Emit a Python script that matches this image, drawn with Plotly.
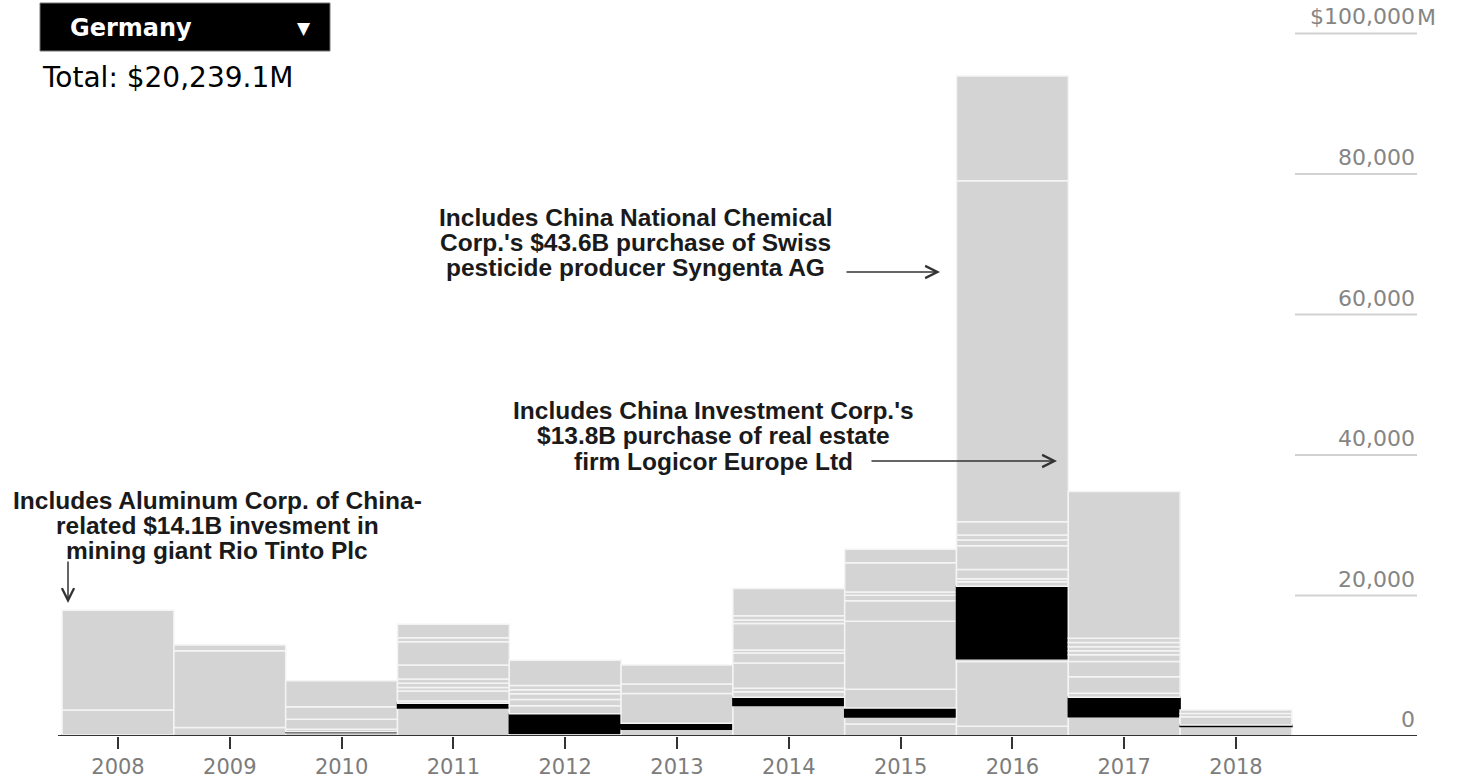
import plotly.graph_objects as go

years = [2008, 2009, 2010, 2011, 2012, 2013, 2014, 2015, 2016, 2017, 2018]

# Chinese outbound deal values ($M), stacked bottom-to-top for each year
deals_2008 = [150, 3550, 14200]
deals_2009 = [1200, 10950, 800]
deals_2010 = [500, 120, 330, 1420, 1800, 3700]
deals_2011 = [4000, 650, 330, 1420, 500, 600, 600, 2000, 3300, 600, 1900]
deals_2012 = [400, 2750, 1150, 900, 800, 600, 600, 3600]
deals_2013 = [950, 850, 4250, 1350, 2700]
deals_2014 = [4350, 1150, 800, 500, 3600, 1400, 450, 3750, 500, 600, 3900]
deals_2015 = [1700, 1000, 1300, 2650, 9700, 2900, 800, 450, 4150, 1950]
deals_2016 = [1400, 9200, 380, 10319.1, 650, 450, 1300, 3400, 800, 700, 1900, 48550, 14900]
deals_2017 = [2750, 2750, 600, 2350, 2150, 950, 600, 550, 600, 600, 20900]
deals_2018 = [1350, 200, 1200, 450, 500]

# Position of the selected country's deal inside each year's stack (None = no deal)
country = "Germany"
country_index = [0, None, 1, 1, 1, 1, 1, 2, 3, 1, 1]

y_tick_values = [0, 20000, 40000, 60000, 80000, 100000]
y_tick_labels = ["0", "20,000", "40,000", "60,000", "80,000", "$100,000"]

annotation_chemchina = ["Includes China National Chemical",
                        "Corp.'s $43.6B purchase of Swiss",
                        "pesticide producer Syngenta AG"]
annotation_cic = ["Includes China Investment Corp.'s",
                  "$13.8B purchase of real estate",
                  "firm Logicor Europe Ltd"]
annotation_chinalco = ["Includes Aluminum Corp. of China-",
                       "related $14.1B invesment in",
                       "mining giant Rio Tinto Plc"]

stacks = [deals_2008, deals_2009, deals_2010, deals_2011, deals_2012, deals_2013,
          deals_2014, deals_2015, deals_2016, deals_2017, deals_2018]

GRAY = "#d4d4d4"
SEL = "#000000"
SEP = "#f4f4f4"
FONT = "DejaVu Sans"

W, H = 1458, 780
MARGIN_B = 44
PLOT_H = H - MARGIN_B


def fx(px):
    return px / W


def fy(py):
    return 1 - py / PLOT_H


xs, ys, bases, fills, edges = [], [], [], [], []
country_total = 0.0
for year, stack, sel in zip(years, stacks, country_index):
    running = 0.0
    for i, v in enumerate(stack):
        xs.append(year)
        ys.append(v)
        bases.append(running)
        chosen = (i == sel)
        fills.append(SEL if chosen else GRAY)
        edges.append(SEL if chosen else SEP)
        if chosen:
            country_total += v
        running += v

fig = go.Figure(go.Bar(
    x=xs, y=ys, base=bases, width=1,
    marker=dict(color=fills, line=dict(color=edges, width=1.5)),
    hoverinfo="skip",
))

# pixel scale: 111.8 px per year, 2008 centred at x=118
x_lo = 2008 - 118 / 111.8
x_hi = 2008 + (W - 118) / 111.8
y_hi = PLOT_H / 7.025 * 1000

fig.update_layout(
    width=W, height=H,
    margin=dict(l=0, r=0, t=0, b=MARGIN_B),
    paper_bgcolor="white", plot_bgcolor="white",
    barmode="overlay",
    showlegend=False,
    font=dict(family=FONT, color="#222"),
    xaxis=dict(range=[x_lo, x_hi], tickmode="array", tickvals=years,
               ticktext=[str(y) for y in years], ticks="outside", ticklen=12,
               tickwidth=2, tickcolor="#333", showgrid=False, zeroline=False,
               showline=False, tickfont=dict(family=FONT, size=21, color="#7c7c7c"),
               fixedrange=True),
    yaxis=dict(range=[0, y_hi], visible=False, fixedrange=True),
)

shapes = []
annotations = []

# baseline
shapes.append(dict(type="line", xref="paper", yref="y", x0=fx(58), x1=fx(1417),
                   y0=0, y1=0, line=dict(color="#333", width=2), layer="above"))

# short gridlines + labels on the right
for v, lab in zip(y_tick_values, y_tick_labels):
    if v > 0:
        shapes.append(dict(type="line", xref="paper", yref="y", x0=fx(1295), x1=fx(1417),
                           y0=v, y1=v, line=dict(color="#d2d2d2", width=2), layer="below"))
    annotations.append(dict(xref="paper", yref="y", x=fx(1417), y=v, text=lab,
                            xanchor="right", yanchor="bottom", showarrow=False, yshift=2,
                            font=dict(family=FONT, size=22, color="#858585")))
annotations.append(dict(xref="paper", yref="y", x=fx(1417), y=y_tick_values[-1], text="M",
                        xanchor="left", yanchor="bottom", showarrow=False, yshift=2, xshift=-2,
                        font=dict(family=FONT, size=22, color="#858585")))

# country selector box
shapes.append(dict(type="rect", xref="paper", yref="paper", x0=fx(40), x1=fx(330),
                   y0=fy(51), y1=fy(3), fillcolor="black", line=dict(color="#777", width=1)))
annotations.append(dict(xref="paper", yref="paper", x=fx(68), y=fy(28), text="<b>" + country + "</b>",
                        xanchor="left", yanchor="middle", showarrow=False,
                        font=dict(family=FONT, size=24, color="white")))
annotations.append(dict(xref="paper", yref="paper", x=fx(304), y=fy(28), text="▼",
                        xanchor="center", yanchor="middle", showarrow=False,
                        font=dict(family=FONT, size=17, color="white")))
annotations.append(dict(xref="paper", yref="paper", x=fx(40), y=fy(77),
                        text="Total: ${:,.1f}M".format(country_total),
                        xanchor="left", yanchor="middle", showarrow=False,
                        font=dict(family=FONT, size=28, color="#000")))


def note(lines, cx, y_first, step=25.5):
    for k, line in enumerate(lines):
        annotations.append(dict(xref="paper", yref="paper", x=fx(cx), y=fy(y_first + k * step),
                                text="<b>" + line + "</b>", xanchor="center", yanchor="middle",
                                showarrow=False,
                                font=dict(family="Liberation Sans", size=24.5, color="#1a1a1a")))


def arrow(hx, hy, tx, ty):
    annotations.append(dict(xref="paper", yref="paper", x=fx(hx), y=fy(hy), ax=tx - hx, ay=ty - hy,
                            text="", showarrow=True, arrowhead=5, arrowsize=1.6, arrowwidth=1.5,
                            arrowcolor="#333", standoff=0))


note(annotation_chemchina, 635, 217)
arrow(940, 272, 845, 272)
note(annotation_cic, 713, 410)
arrow(1057, 461, 870, 461)
note(annotation_chinalco, 217, 500, step=25.2)
arrow(68, 603, 68, 560)

fig.update_layout(shapes=shapes, annotations=annotations)
fig.write_html("out.html")
